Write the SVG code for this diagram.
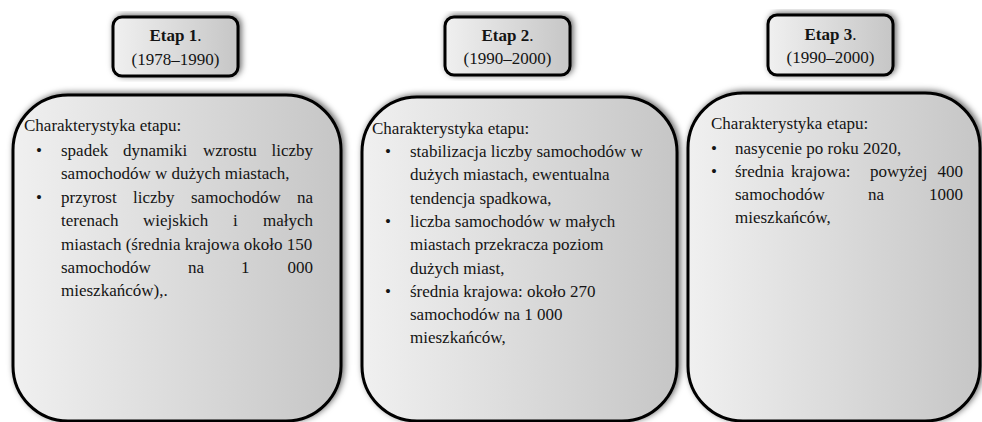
<svg xmlns="http://www.w3.org/2000/svg" width="982" height="422" viewBox="0 0 982 422">
<style>
.box{fill:url(#gr);stroke:#000;stroke-width:3;filter:url(#sh)}
.t{font-family:"Liberation Serif","Times New Roman",serif;font-size:17px;fill:#141414}
.b{font-weight:bold}
.c{text-anchor:middle}
.e{text-anchor:end}
</style>
<defs>
<linearGradient id="gr" x1="0" y1="0" x2="1" y2="0">
<stop offset="0" stop-color="#f0f0f0"/>
<stop offset="1" stop-color="#c6c6c6"/>
</linearGradient>
<filter id="sh" x="-10%" y="-10%" width="120%" height="120%">
<feDropShadow dx="2" dy="-1" stdDeviation="3" flood-color="#000" flood-opacity="0.6"/>
</filter>
</defs>
<g id="etap1">
<rect class="box" x="113" y="17" width="125" height="59" rx="9"/>
<text class="t c" x="175.5" y="41"><tspan class="b">Etap 1</tspan>.</text>
<text class="t c" x="175.5" y="65">(1978–1990)</text>
</g>
<g id="etap2">
<rect class="box" x="445" y="17" width="125" height="58" rx="9"/>
<text class="t c" x="507.5" y="41"><tspan class="b">Etap 2</tspan>.</text>
<text class="t c" x="507.5" y="64">(1990–2000)</text>
</g>
<g id="etap3">
<rect class="box" x="768" y="15" width="125" height="60" rx="9"/>
<text class="t c" x="830.5" y="40"><tspan class="b">Etap 3</tspan>.</text>
<text class="t c" x="830.5" y="63">(1990–2000)</text>
</g>
<g id="panel1">
<rect class="box" x="13" y="95" width="328" height="326" rx="55"/>
<text class="t" x="24" y="131">Charakterystyka  etapu:</text>
<text class="t" x="36" y="156">•</text>
<text class="t" y="156"><tspan x="61">spadek</tspan><tspan x="123">dynamiki</tspan><tspan x="203">wzrostu</tspan><tspan class="e" x="313">liczby</tspan></text>
<text class="t" x="61" y="179.4">samochodów w dużych miastach,</text>
<text class="t" x="36" y="202.8">•</text>
<text class="t" y="202.8"><tspan x="61">przyrost</tspan><tspan x="133">liczby</tspan><tspan x="191">samochodów</tspan><tspan class="e" x="313">na</tspan></text>
<text class="t" y="226.2"><tspan x="61">terenach</tspan><tspan x="143">wiejskich</tspan><tspan x="233">i</tspan><tspan class="e" x="313">małych</tspan></text>
<text class="t" x="61" y="249.6">miastach (średnia krajowa około 150</text>
<text class="t" y="273"><tspan x="61">samochodów</tspan><tspan x="188">na</tspan><tspan x="241">1</tspan><tspan class="e" x="313">000</tspan></text>
<text class="t" x="61" y="296.4">mieszkańców),.</text>
</g>
<g id="panel2">
<rect class="box" x="362" y="97" width="315" height="324" rx="55"/>
<text class="t" x="372" y="134">Charakterystyka  etapu:</text>
<text class="t" x="385" y="157">•</text>
<text class="t" x="410" y="157">stabilizacja liczby samochodów w</text>
<text class="t" x="410" y="180.3">dużych miastach, ewentualna</text>
<text class="t" x="410" y="203.6">tendencja spadkowa,</text>
<text class="t" x="385" y="226.9">•</text>
<text class="t" x="410" y="226.9">liczba samochodów w małych</text>
<text class="t" x="410" y="250.2">miastach przekracza poziom</text>
<text class="t" x="410" y="273.5">dużych miast,</text>
<text class="t" x="385" y="296.8">•</text>
<text class="t" x="410" y="296.8">średnia krajowa: około 270</text>
<text class="t" x="410" y="320.1">samochodów na 1 000</text>
<text class="t" x="410" y="343.4">mieszkańców,</text>
</g>
<g id="panel3">
<rect class="box" x="688" y="93" width="292" height="328" rx="55"/>
<text class="t" x="711" y="129">Charakterystyka  etapu:</text>
<text class="t" x="711" y="154">•</text>
<text class="t" x="735" y="154">nasycenie  po roku 2020,</text>
<text class="t" x="711" y="177">•</text>
<text class="t" y="177"><tspan x="735">średnia</tspan><tspan x="791">krajowa:</tspan><tspan x="870">powyżej</tspan><tspan class="e" x="963">400</tspan></text>
<text class="t" y="200"><tspan x="735">samochodów</tspan><tspan x="868">na</tspan><tspan class="e" x="963">1000</tspan></text>
<text class="t" x="735" y="223">mieszkańców,</text>
</g>
<g id="connectors"/>
</svg>
